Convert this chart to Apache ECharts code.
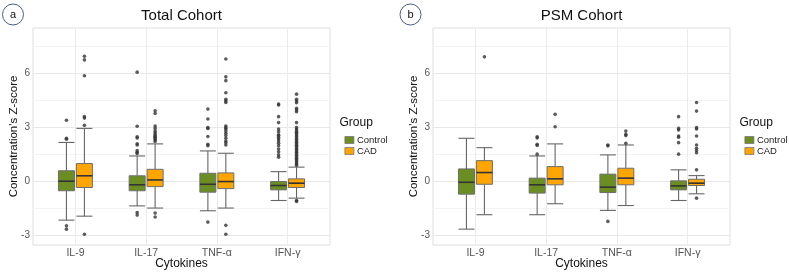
<!DOCTYPE html>
<html>
<head>
<meta charset="utf-8">
<script src="https://cdn.jsdelivr.net/npm/echarts@6/dist/echarts.min.js"></script>
<style>
  html, body { margin: 0; padding: 0; background: #fff; }
  #chart { width: 789px; height: 272px; }
</style>
</head>
<body>
<div id="chart"></div>
<script>
// 分类与分组
const cytokines = ['IL-9', 'IL-17', 'TNF-α', 'IFN-γ'];
const groups = ['Control', 'CAD'];
const yMajorTicks = [-3, 0, 3, 6];
const yMinorTicks = [-1.5, 1.5, 4.5, 7.5];

// Total Cohort: [low whisker, Q1, median, Q3, high whisker]
const totalControlBox = [
  [-2.14, -0.51, 0.02, 0.60, 2.17],
  [-1.35, -0.51, -0.18, 0.32, 1.42],
  [-1.62, -0.59, -0.15, 0.46, 1.70],
  [-1.05, -0.46, -0.22, 0.00, 0.55]
];
const totalCadBox = [
  [-1.92, -0.33, 0.32, 1.00, 2.95],
  [-1.47, -0.28, 0.09, 0.68, 2.09],
  [-1.47, -0.39, 0.00, 0.48, 1.57],
  [-0.92, -0.33, -0.09, 0.15, 0.80]
];
const totalControlOut = [
  [3.4, 2.4, 2.35, -2.45, -2.64],
  [6.07, 3.07, 2.49, 2.42, 2.1, 2.03, 1.72, 1.63, 1.55, -1.72, -1.86],
  [4.02, 3.47, 2.99, 2.95, 2.5, 2.07, 1.99, -2.25],
  [4.3, 4.25, 3.6, 3.27, 2.92, 2.77, 2.6, 2.55, 2.45, 2.36, 2.25, 2.12, 1.99, 1.81, 1.65, 1.48, 1.35]
];
const totalCadOut = [
  [6.95, 6.75, 5.87, 3.6, 3.52, 3.12, -2.92],
  [3.93, 3.78, 3.08, 2.95, 2.8, 2.7, 2.6, 2.52, 2.45, 2.38, 2.3, 2.22, -1.75, -1.97],
  [6.8, 5.81, 5.6, 4.93, 4.56, 4.47, 4.39, 3.08, 2.99, 2.92, 2.8, 2.68, 2.55, 2.4, 2.25, 2.16, 2.03, -2.43, -2.92],
  [4.85, 4.56, 4.47, 4.37, 4.06, 3.97, 3.87, 3.27, 3.0, 2.92, 2.82, 2.74, 2.66, 2.58, 2.5, 2.42, 2.34, 2.26,
   2.18, 2.1, 2.02, 1.94, 1.86, 1.78, 1.7, 1.62, 1.54, 1.46, 1.38, 1.3, 1.22, 1.14, 1.05, 0.97, 0.9, -1.05, -1.1]
];

// PSM Cohort
const psmControlBox = [
  [-2.64, -0.70, -0.04, 0.70, 2.40],
  [-1.84, -0.64, -0.18, 0.19, 1.42],
  [-1.60, -0.61, -0.31, 0.41, 1.48],
  [-1.05, -0.46, -0.24, 0.04, 0.65]
];
const psmCadBox = [
  [-1.84, -0.15, 0.50, 1.16, 1.88],
  [-1.23, -0.18, 0.15, 0.83, 2.09],
  [-1.33, -0.18, 0.19, 0.74, 2.03],
  [-0.68, -0.22, -0.09, 0.13, 0.33]
];
const psmControlOut = [
  [],
  [2.49, 2.42, 2.07, 2.0, 1.52],
  [2.03, 1.98, -2.21],
  [3.6, 2.95, 2.86, 2.53, 2.46, 2.16, 1.52]
];
const psmCadOut = [
  [6.92],
  [3.73, 3.04],
  [2.8, 2.62, 2.55, 2.12],
  [4.39, 3.91, 2.99, 2.92, 2.53, 2.03, 1.85, 1.72, 1.6, 0.65, -0.92]
];

const GREEN = '#6b8e23';
const ORANGE = '#ffa500';
const DODGE = 0.127;
const BOX_W = 0.226;
const FONT = '"Liberation Sans", Arial, sans-serif';

const lineStyle = { stroke: '#666', lineWidth: 1.1 };

// 箱线图自绘
const makeRenderBox = (dodge) => (params, api) => {
  const x = api.value(0) + dodge;
  const lo = api.coord([x, api.value(1)]);
  const q1 = api.coord([x, api.value(2)]);
  const md = api.coord([x, api.value(3)]);
  const q3 = api.coord([x, api.value(4)]);
  const hi = api.coord([x, api.value(5)]);
  const w = api.size([BOX_W, 0])[0];
  const cx = lo[0];
  return {
    type: 'group',
    children: [
      { type: 'line', shape: { x1: cx, y1: hi[1], x2: cx, y2: q3[1] }, style: lineStyle },
      { type: 'line', shape: { x1: cx, y1: q1[1], x2: cx, y2: lo[1] }, style: lineStyle },
      { type: 'line', shape: { x1: cx - w / 2, y1: hi[1], x2: cx + w / 2, y2: hi[1] }, style: lineStyle },
      { type: 'line', shape: { x1: cx - w / 2, y1: lo[1], x2: cx + w / 2, y2: lo[1] }, style: lineStyle },
      {
        type: 'rect',
        shape: { x: cx - w / 2, y: q3[1], width: w, height: q1[1] - q3[1] },
        style: { fill: api.visual('color'), stroke: '#6e6e6e', lineWidth: 1 }
      },
      { type: 'line', shape: { x1: cx - w / 2, y1: md[1], x2: cx + w / 2, y2: md[1] }, style: { stroke: '#333', lineWidth: 1.6 } }
    ]
  };
};

const boxSeries = (name, color, stats, dodge, gi) => ({
  type: 'custom',
  name: name,
  xAxisIndex: gi,
  yAxisIndex: gi * 2,
  itemStyle: { color: color },
  renderItem: makeRenderBox(dodge),
  encode: { x: 0, y: [1, 2, 3, 4, 5] },
  data: stats.map((s, i) => [i + 1].concat(s)),
  z: 3
});

const outlierSeries = (name, outs, dodge, gi) => {
  const pts = [];
  outs.forEach((vals, i) => vals.forEach(v => pts.push([i + 1 + dodge, v])));
  return {
    type: 'scatter',
    name: name,
    xAxisIndex: gi,
    yAxisIndex: gi * 2,
    symbolSize: 3.6,
    itemStyle: { color: '#333' },
    data: pts,
    z: 4
  };
};

const panels = [
  { left: 33, title: 'Total Cohort', tag: 'a', legendX: 339.5, tagX: 13 },
  { left: 433, title: 'PSM Cohort', tag: 'b', legendX: 739.5, tagX: 410.5 }
];
const PW = 297, PT = 28, PH = 217;

const option = {
  animation: false,
  textStyle: { fontFamily: FONT },
  grid: panels.map(p => ({
    left: p.left, top: PT, width: PW, height: PH,
    outerBoundsMode: 'none',
    containLabel: false,
    show: true, borderColor: '#dedede', borderWidth: 1, backgroundColor: 'transparent'
  })),
  xAxis: panels.map((p, gi) => ({
    type: 'value',
    gridIndex: gi,
    min: 0.4,
    max: 4.6,
    name: 'Cytokines',
    nameLocation: 'middle',
    nameGap: 13,
    nameMoveOverlap: false,
    nameTextStyle: { fontSize: 12, color: '#111' },
    axisLine: { show: false },
    axisTick: { show: false, customValues: [1, 2, 3, 4] },
    axisLabel: {
      customValues: [1, 2, 3, 4],
      formatter: v => cytokines[Math.round(v) - 1],
      fontSize: 10.5,
      color: '#555',
      margin: 3
    },
    splitLine: { show: true, lineStyle: { color: '#ebebeb', width: 1 } }
  })),
  yAxis: [],
  legend: panels.map(p => ({
    data: groups,
    orient: 'vertical',
    left: p.legendX,
    top: 130,
    icon: 'rect',
    itemWidth: 9,
    itemHeight: 7,
    itemGap: 1,
    itemStyle: { borderColor: '#777', borderWidth: 0.8 },
    textStyle: { fontSize: 9.5, color: '#222', padding: [0, 0, 0, -2] },
    selectedMode: false
  })),
  graphic: [],
  series: []
};

panels.forEach((p, gi) => {
  option.yAxis.push({
    type: 'value',
    gridIndex: gi,
    min: -3.52,
    max: 8.52,
    name: "Concentration's Z-score",
    nameLocation: 'middle',
    nameGap: 13,
    nameMoveOverlap: false,
    nameTextStyle: { fontSize: 11.5, color: '#111' },
    axisLine: { show: false },
    axisTick: { show: false, customValues: yMajorTicks },
    axisLabel: { customValues: yMajorTicks, fontSize: 10, color: '#555', margin: 3 },
    splitLine: { show: true, lineStyle: { color: '#e8e8e8', width: 1 } }
  });
  option.yAxis.push({
    type: 'value',
    gridIndex: gi,
    min: -3.52,
    max: 8.52,
    position: 'left',
    axisLine: { show: false },
    axisTick: { show: false, customValues: yMinorTicks },
    axisLabel: { show: false, customValues: yMinorTicks },
    splitLine: { show: true, lineStyle: { color: '#f3f3f3', width: 1 } }
  });

  const ctrlBox = gi === 0 ? totalControlBox : psmControlBox;
  const cadBox = gi === 0 ? totalCadBox : psmCadBox;
  const ctrlOut = gi === 0 ? totalControlOut : psmControlOut;
  const cadOut = gi === 0 ? totalCadOut : psmCadOut;

  option.series.push(boxSeries('Control', GREEN, ctrlBox, -DODGE, gi));
  option.series.push(boxSeries('CAD', ORANGE, cadBox, DODGE, gi));
  option.series.push(outlierSeries('Control outliers', ctrlOut, -DODGE, gi));
  option.series.push(outlierSeries('CAD outliers', cadOut, DODGE, gi));

  option.graphic.push(
    {
      type: 'text',
      x: p.left + PW / 2, y: 16,
      style: { text: p.title, font: '15px ' + FONT, fill: '#111', textAlign: 'center', textVerticalAlign: 'middle' }
    },
    {
      type: 'circle',
      shape: { cx: p.tagX, cy: 14.5, r: 10.5 },
      style: { fill: 'none', stroke: '#4d5b85', lineWidth: 1 }
    },
    {
      type: 'text',
      x: p.tagX, y: 14.5,
      style: { text: p.tag, font: '11px ' + FONT, fill: '#111', textAlign: 'center', textVerticalAlign: 'middle' }
    },
    {
      type: 'text',
      x: p.legendX, y: 123,
      style: { text: 'Group', font: '12px ' + FONT, fill: '#111', textAlign: 'left', textVerticalAlign: 'middle' }
    }
  );
});

const chart = echarts.init(document.getElementById('chart'));
chart.setOption(option);
</script>
</body>
</html>
